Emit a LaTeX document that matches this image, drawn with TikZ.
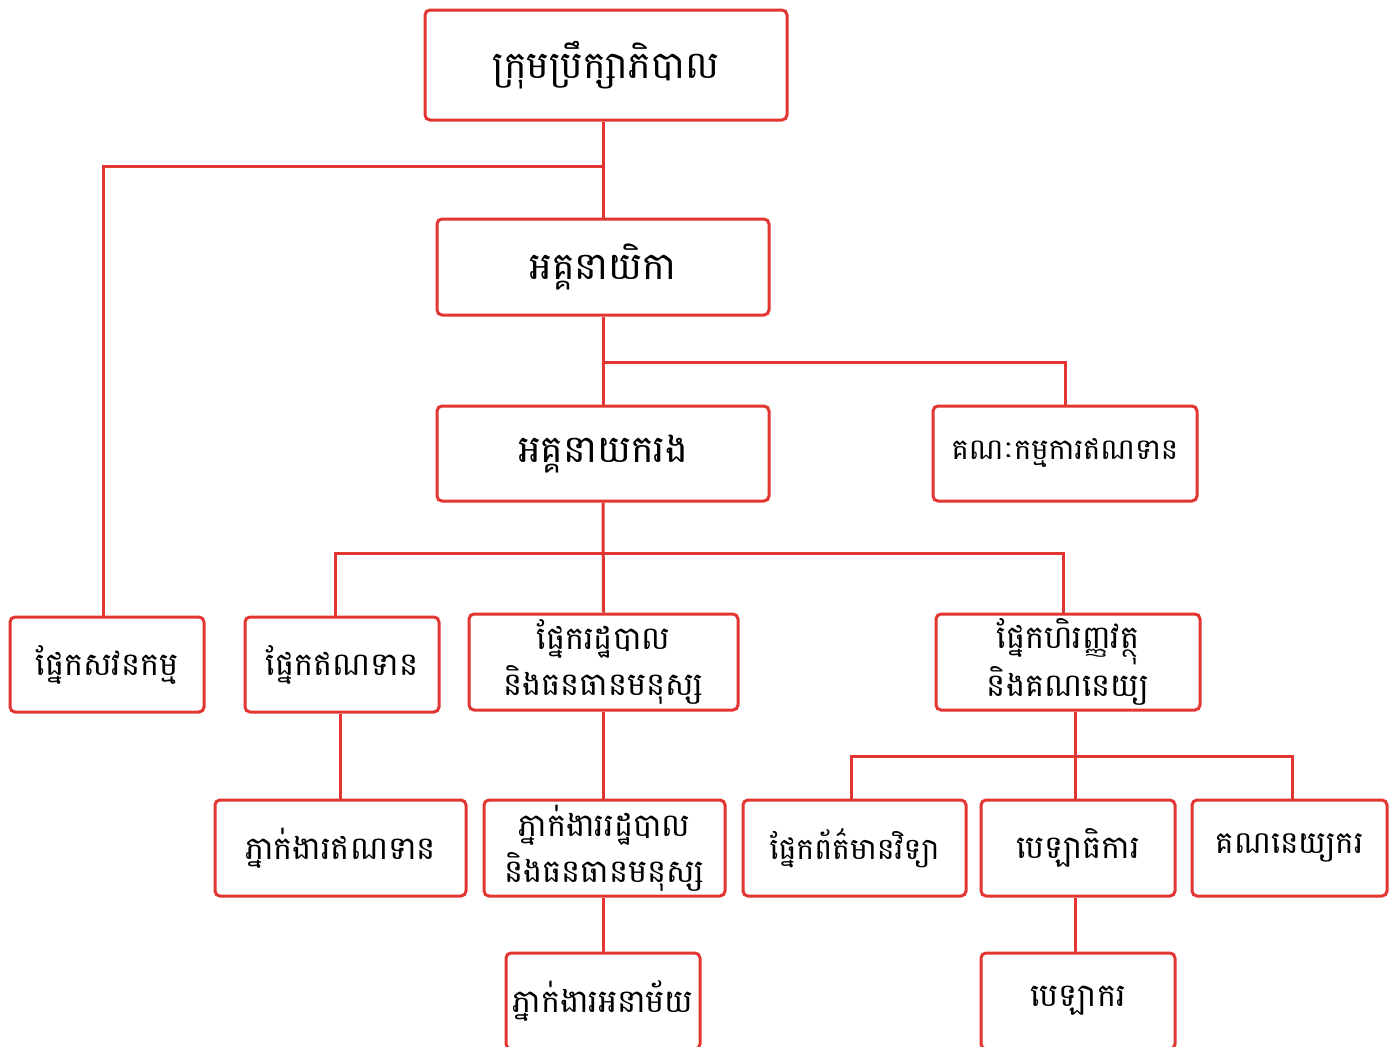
\documentclass[tikz,border=0pt]{standalone}
\usepackage{fontspec}
\newfontfamily\khmer[Script=Khmer]{Battambang}
\usepackage{tikz}
\usetikzlibrary{positioning}
\definecolor{orgred}{RGB}{226,54,50}

\begin{document}
\begin{tikzpicture} [x=0.5pt, y=-0.5pt, line width=1.5pt, draw=orgred]
\tikzstyle{box}=[rectangle, draw=orgred, line width=1.5pt, rounded corners=2.5pt, fill=white, align=center, inner sep=0pt, font=\khmer\fontsize{16}{23}\selectfont]
\tikzstyle{big}=[font=\khmer\fontsize{19}{26}\selectfont]
\tikzstyle{mid}=[font=\khmer\fontsize{19}{24}\selectfont]
\tikzstyle{small}=[font=\khmer\fontsize{14.5}{20}\selectfont]
\useasboundingbox (0,0) rectangle (1398,1046);
\clip (0,0) rectangle (1398,1046);

\node [box, big, minimum width=181pt, minimum height=55pt] (board) at (606,65) {ក្រុមប្រឹក្សាភិបាល};
\node [box, mid, minimum width=166pt, minimum height=48pt] (dir) at (603,267) {អគ្គនាយិកា};
\node [box, mid, minimum width=166pt, minimum height=47.5pt] (dep) at (603,453.5) {អគ្គនាយករង};
\node [box, small, minimum width=132pt, minimum height=47.5pt] (cmt) at (1065,453.5) {គណៈកម្មការឥណទាន};

\node [box, minimum width=97pt, minimum height=47.5pt] (aud) at (107,664.5) {ផ្នែកសវនកម្ម};
\node [box, minimum width=97pt, minimum height=47.5pt] (cred) at (342,664.5) {ផ្នែកឥណទាន};
\node [box, minimum width=134.5pt, minimum height=48pt] (adm) at (603.5,662) {ផ្នែករដ្ឋបាល\\និងធនធានមនុស្ស};
\node [box, minimum width=132pt, minimum height=48pt] (fin) at (1068,662) {ផ្នែកហិរញ្ញវត្ថុ\\និងគណនេយ្យ};

\node [box, minimum width=125.5pt, minimum height=48pt] (cagt) at (340.5,848) {ភ្នាក់ងារឥណទាន};
\node [box, minimum width=120.5pt, minimum height=48pt] (aagt) at (604.5,848) {ភ្នាក់ងាររដ្ឋបាល\\និងធនធានមនុស្ស};
\node [box, font=\khmer\fontsize{15}{20}\selectfont, minimum width=111.5pt, minimum height=48pt] (it) at (854.5,848) {ផ្នែកព័ត៌មានវិទ្យា};
\node [box, minimum width=97pt, minimum height=48pt] (cash) at (1078,848) {បេឡាធិការ};
\node [box, font=\khmer\fontsize{15.5}{20}\selectfont, minimum width=97.5pt, minimum height=48pt] (acct) at (1289.5,848) {គណនេយ្យករ};

\node [box, minimum width=97pt, minimum height=48pt] (clean) at (603,1001) {ភ្នាក់ងារអនាម័យ};
\node [box, minimum width=97pt, minimum height=48pt] (teller) at (1078,1001) {បេឡាករ};

\coordinate (j1) at (603,166);
\coordinate (j2) at (603,362);
\coordinate (j3) at (603,553);
\coordinate (j4) at (1075,756);

\draw [orgred] (dir.north) -- (dir.north |- board.south);
\draw [orgred] (j1) -| (aud.north -| 103,0);
\draw [orgred] (dep.north) -- (dir.south);
\draw [orgred] (j2) -| (cmt.north);
\draw [orgred] (adm.north) -- (dep.south);
\draw [orgred] (cred.north -| 335,0) |- (j3) -| (fin.north -| 1063,0);
\draw [orgred] (cagt.north) -- (cagt.north |- cred.south);
\draw [orgred] (aagt.north -| adm.south) -- (adm.south);
\draw [orgred] (clean.north) -- (clean.north |- aagt.south);
\draw [orgred] (cash.north -| j4) -- (j4 |- fin.south);
\draw [orgred] (it.north -| 851,0) |- (j4) -| (acct.north -| 1292,0);
\draw [orgred] (teller.north -| j4) -- (j4 |- cash.south);
\end{tikzpicture}
\end{document}
